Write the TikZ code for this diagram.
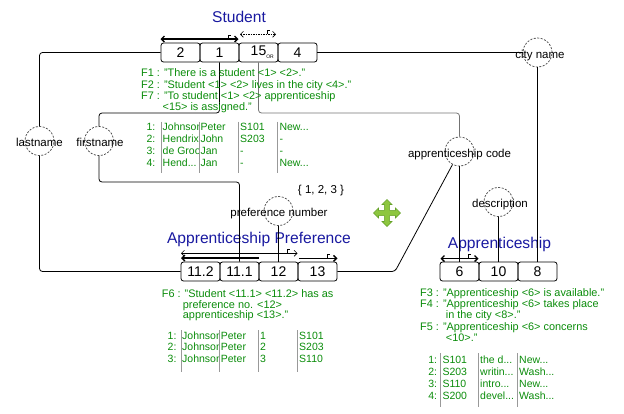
\documentclass[tikz,border=0pt]{standalone}
\usepackage{fontspec}
\setmainfont{Liberation Sans}
\usetikzlibrary{arrows.meta}
\definecolor{ttl}{RGB}{25,25,160}
\definecolor{fg}{RGB}{10,140,10}
\definecolor{mvfill}{RGB}{141,198,63}
\definecolor{mvline}{RGB}{100,160,40}
\newcommand{\cutcell}[1]{\makebox[35.5pt][l]{#1}}
\begin{document}
\begin{tikzpicture}[x=1pt,y=-1pt,
  box/.style={draw, line width=0.8pt, rounded corners=2.5pt, minimum width=39pt, minimum height=19pt, inner sep=0pt, font=\fontsize{14}{14}\selectfont},
  attr/.style={circle, draw=black!75, dash pattern=on 2pt off 1.5pt, line width=0.7pt, minimum size=29pt, inner sep=0pt},
  attrtxt/.style={font=\fontsize{11.5}{12}\selectfont, inner sep=0pt, anchor=base},
  conn/.style={line width=0.8pt, rounded corners=3pt},
  ttlst/.style={text=ttl, font=\fontsize{15.6}{16}\selectfont, inner sep=0pt, anchor=base},
  ftxt/.style={text=fg, font=\fontsize{10.9}{11}\selectfont, anchor=base west, inner sep=0pt},
  cell/.style={text=fg, font=\fontsize{10.5}{11}\selectfont, anchor=base west, inner sep=0pt},
  rnum/.style={text=fg, font=\fontsize{10.5}{11}\selectfont, anchor=base east, inner sep=0pt},
  sep/.style={draw=black!40, line width=0.6pt},
  ubar/.style={line width=0.6pt},
  ubarthick/.style={line width=1.4pt},
  tip/.tip={Straight Barb[length=3pt,width=6pt]},
]
\useasboundingbox (0,0) rectangle (624,413);

% ---------- titles ----------
\node[ttlst] (tstudent) at (239,22.5) {Student};
\node[ttlst] (tpref) at (259,243.3) {Apprenticeship Preference};
\node[ttlst] (tapp) at (499.5,248.3) {Apprenticeship};

% ---------- role boxes ----------
\node[box] (s2) at (180.5,52.5) {2};
\node[box] (s1) at (219.5,52.5) {1};
\node[box] (s15) at (258.5,52.5) {15\rlap{\raisebox{-3pt}{\fontsize{5}{5}\selectfont OR}}};
\node[box] (s4) at (297.5,52.5) {4};

\node[box] (b112) at (200.5,271.5) {11.2};
\node[box] (b111) at (239.5,271.5) {11.1};
\node[box] (b12) at (278.5,271.5) {12};
\node[box] (b13) at (317.5,271.5) {13};

\node[box] (b6) at (459.5,271.5) {6};
\node[box] (b10) at (498.5,271.5) {10};
\node[box] (b8) at (537.5,271.5) {8};

% ---------- attribute circles ----------
\node[attr] (ln) at (39.5,141) {};
\node[attr] (fn) at (99,141) {};
\node[attr] (ac) at (459.5,151.5) {};
\node[attr] (ds) at (498.5,202) {};
\node[attr] (cn) at (537.5,52.5) {};
\node[attr] (pn) at (278.5,211) {};

\node[attrtxt] (lnt) at (39.5,146.5) {lastname};
\node[attrtxt] (fnt) at (100,146.5) {firstname};
\node[attrtxt] (act) at (459.5,157) {apprenticeship code};
\node[attrtxt] (dst) at (500,207.5) {description};
\node[attrtxt] (cnt) at (540,58) {city name};
\node[attrtxt] (pnt) at (279,216.5) {preference number};
\node[attrtxt] (vals) at (321,193.5) {\{ 1, 2, 3 \}};

% ---------- connectors ----------
\coordinate (ytop) at (0,113);
\coordinate (ymid) at (0,182);
\coordinate (acb) at (395,271.5);

\draw[conn] (s2.west) -| (ln.north);
\draw[conn] (ln.south) |- (b112.west);
\draw[conn] (s1.south) -- (s1.south |- ytop) -| (fn.north);
\draw[conn] (fn.south) -- (fn.south |- ymid) -| (b111.north);
\draw[conn, draw=black!55] (s15.south) -- (s15.south |- ytop) -| (ac.north);
\draw[conn] (s4.east) -- (cn.west);
\draw[conn] (cn.south) -- (b8.north);
\draw[conn] (ds.south) -- (b10.north);
\draw[conn] (pn.south) -- (b12.north);
\draw[conn] (ac.south) -- (b6.north);
\draw[conn] (b13.east) -- (acb) -- (ac);

% ---------- uniqueness bars ----------
\draw[ubarthick, {tip}-{tip}] (160.5,39) -- (238.5,39);
\draw[ubar] (228.3,38.3) -- (228.3,35) -- (231,35);
\draw[ubar, dash pattern=on 1.5pt off 1pt, {tip}-{tip}] (240,34.3) -- (276,34.3);
\draw[ubar] (267,34.3) -- (267,30.5) -- (270,30.5);

\draw[ubar, {tip}-{tip}] (181,253.3) -- (297.5,253.3);
\draw[ubar] (287,253.3) -- (287,249.5) -- (290,249.5);
\draw[ubarthick, {tip}-] (181,258) -- (258.5,258);
\draw[ubarthick, -{tip}] (299,258.3) -- (337.5,258.3);
\draw[ubar] (327,258) -- (327,254) -- (330,254);

\draw[ubarthick, {tip}-{tip}] (440.5,258.5) -- (478.5,258.5);
\draw[ubar] (468,258.5) -- (468,254.5) -- (471,254.5);

% ---------- move icon ----------
\begin{scope}[shift={(387,213)}]
\filldraw[fill=mvfill, draw=mvline, line width=0.6pt, line join=miter] (13.5,0) -- (8.5,5) -- (8.5,2.6) -- (2.6,2.6) -- (2.6,8.5) -- (5,8.5) -- (0,13.5) -- (-5,8.5) -- (-2.6,8.5) -- (-2.6,2.6) -- (-8.5,2.6) -- (-8.5,5) -- (-13.5,0) -- (-8.5,-5) -- (-8.5,-2.6) -- (-2.6,-2.6) -- (-2.6,-8.5) -- (-5,-8.5) -- (0,-13.5) -- (5,-8.5) -- (2.6,-8.5) -- (2.6,-2.6) -- (8.5,-2.6) -- (8.5,-5) -- cycle;
\end{scope}

% ---------- fact type readings ----------
\node[ftxt] (f1) at (141,76.5) {F1 : "There is a student <1> <2>."};
\node[ftxt] (f2) at (141,88) {F2 : "Student <1> <2> lives in the city <4>."};
\node[ftxt] (f7) at (141,99.5) {F7 : "To student <1> <2> apprenticeship};
\node[ftxt] (f7b) at (162.5,110.8) {<15> is assigned."};

\node[ftxt] (f6) at (161.7,297.5) {F6 : "Student <11.1> <11.2> has as};
\node[ftxt] (f6b) at (182.7,308) {preference no. <12>};
\node[ftxt] (f6c) at (182.7,318.5) {apprenticeship <13>."};

\node[ftxt] (f3) at (420,296) {F3 : "Apprenticeship <6> is available."};
\node[ftxt] (f4) at (420,307.3) {F4 : "Apprenticeship <6> takes place};
\node[ftxt] (f4b) at (445.7,318.5) {in the city <8>."};
\node[ftxt] (f5) at (420,330) {F5 : "Apprenticeship <6> concerns};
\node[ftxt] (f5b) at (445.7,341.3) {<10>."};

% ---------- Student population ----------
\foreach \x in {161.7,199.3,238.3,277.7} \draw[sep] (\x,121.7) -- (\x,173.3);
\node[rnum] (sr1) at (155.5,130.7) {1:};
\node[rnum] (sr2) at (155.5,142.5) {2:};
\node[rnum] (sr3) at (155.5,154.3) {3:};
\node[rnum] (sr4) at (155.5,166.1) {4:};
\begin{scope}
\clip (162.2,115) rectangle (198.8,176);
\node[cell] (sa1) at (162.5,130.7) {\cutcell{Johnson}};
\node[cell] (sa2) at (162.5,142.5) {\cutcell{Hendrix}};
\node[cell] (sa3) at (162.5,154.3) {\cutcell{de Groot}};
\node[cell] (sa4) at (162.5,166.1) {\cutcell{Hend...}};
\end{scope}
\node[cell] (sb1) at (200.3,130.7) {Peter};
\node[cell] (sb2) at (200.3,142.5) {John};
\node[cell] (sb3) at (200.3,154.3) {Jan};
\node[cell] (sb4) at (200.3,166.1) {Jan};
\node[cell] (sc1) at (240,130.7) {S101};
\node[cell] (sc2) at (240,142.5) {S203};
\node[cell] (sc3) at (240,154.3) {-};
\node[cell] (sc4) at (240,166.1) {-};
\node[cell] (sd1) at (279.3,130.7) {New...};
\node[cell] (sd2) at (279.3,142.5) {-};
\node[cell] (sd3) at (279.3,154.3) {-};
\node[cell] (sd4) at (279.3,166.1) {New...};

% ---------- Preference population ----------
\foreach \x in {181,219.3,258.7,297.7} \draw[sep] (\x,330) -- (\x,371.7);
\node[rnum] (pr1) at (176.7,339) {1:};
\node[rnum] (pr2) at (176.7,350.8) {2:};
\node[rnum] (pr3) at (176.7,362.6) {3:};
\begin{scope}
\clip (181.5,325) rectangle (218.8,375);
\node[cell] (pa1) at (182,339) {\cutcell{Johnson}};
\node[cell] (pa2) at (182,350.8) {\cutcell{Johnson}};
\node[cell] (pa3) at (182,362.6) {\cutcell{Johnson}};
\end{scope}
\node[cell] (pb1) at (220.7,339) {Peter};
\node[cell] (pb2) at (220.7,350.8) {Peter};
\node[cell] (pb3) at (220.7,362.6) {Peter};
\node[cell] (pc1) at (260,339) {1};
\node[cell] (pc2) at (260,350.8) {2};
\node[cell] (pc3) at (260,362.6) {3};
\node[cell] (pd1) at (299,339) {S101};
\node[cell] (pd2) at (299,350.8) {S203};
\node[cell] (pd3) at (299,362.6) {S110};

% ---------- Apprenticeship population ----------
\foreach \x in {440.7,478.7,517} \draw[sep] (\x,353.3) -- (\x,406.7);
\node[rnum] (ar1) at (437.3,363.3) {1:};
\node[rnum] (ar2) at (437.3,375.2) {2:};
\node[rnum] (ar3) at (437.3,387.1) {3:};
\node[rnum] (ar4) at (437.3,399) {4:};
\node[cell] (aa1) at (442.3,363.3) {S101};
\node[cell] (aa2) at (442.3,375.2) {S203};
\node[cell] (aa3) at (442.3,387.1) {S110};
\node[cell] (aa4) at (442.3,399) {S200};
\begin{scope}
\clip (479.2,350) rectangle (516.5,410);
\node[cell] (ab1) at (480,363.3) {\cutcell{the d...}};
\node[cell] (ab2) at (480,375.2) {\cutcell{writin...}};
\node[cell] (ab3) at (480,387.1) {\cutcell{intro...}};
\node[cell] (ab4) at (480,399) {\cutcell{devel...}};
\end{scope}
\node[cell] (ac1) at (519,363.3) {New...};
\node[cell] (ac2) at (519,375.2) {Wash...};
\node[cell] (ac3) at (519,387.1) {New...};
\node[cell] (ac4) at (519,399) {Wash...};
\end{tikzpicture}
\end{document}
